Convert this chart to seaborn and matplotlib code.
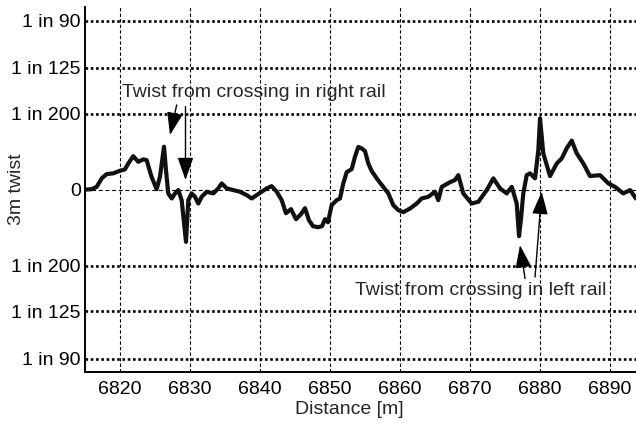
import numpy as np
import matplotlib
matplotlib.use("Agg")
import matplotlib.pyplot as plt
import seaborn as sns

# ── Data ─────────────────────────────────────────────────────────────────────
distance = [6815.00, 6815.96, 6816.67, 6817.39, 6818.10, 6819.04, 6820.00, 6820.71,
            6821.19, 6821.90, 6822.61, 6823.33, 6823.81, 6824.51, 6825.24, 6825.71,
            6826.29, 6826.57, 6826.90, 6827.39, 6827.86, 6828.33, 6828.81, 6829.43,
            6829.76, 6830.24, 6830.71, 6831.19, 6831.67, 6832.39, 6833.33, 6834.04,
            6834.53, 6835.24, 6836.19, 6837.14, 6838.10, 6838.81, 6839.53, 6840.24,
            6840.96, 6841.67, 6842.39, 6843.10, 6843.71, 6844.43, 6845.14, 6845.86,
            6846.43, 6847.00, 6847.57, 6848.29, 6848.86, 6849.29, 6849.71, 6850.24,
            6850.96, 6851.43, 6851.90, 6852.39, 6853.10, 6853.57, 6854.04, 6854.53,
            6855.00, 6855.47, 6855.96, 6856.67, 6857.61, 6858.33, 6859.04, 6859.76,
            6860.47, 6861.43, 6862.39, 6863.10, 6864.04, 6865.00, 6865.47, 6865.96,
            6867.14, 6867.86, 6868.33, 6869.04, 6870.24, 6871.19, 6872.39, 6873.33,
            6874.29, 6875.24, 6875.96, 6876.67, 6877.00, 6877.29, 6877.61, 6878.10,
            6878.57, 6879.29, 6879.76, 6880.00, 6880.29, 6880.47, 6881.43, 6882.39,
            6883.10, 6883.81, 6884.53, 6885.24, 6886.19, 6887.14, 6888.57, 6889.76,
            6890.71, 6891.90, 6892.86, 6893.71]
twist = [0.00, 0.03, 0.18, 0.74, 1.02, 1.07, 1.24, 1.33,
         1.72, 2.20, 1.83, 1.99, 1.94, 0.84, 0.03, 0.84,
         2.82, 1.28, -0.25, -0.58, -0.25, -0.03, -0.69, -3.43,
         -0.69, -0.25, -0.47, -0.91, -0.47, -0.14, -0.25, 0.08,
         0.41, 0.08, -0.03, -0.14, -0.36, -0.58, -0.36, -0.14,
         0.08, 0.23, -0.14, -0.69, -1.55, -1.28, -1.94, -1.61,
         -1.22, -2.01, -2.40, -2.47, -2.40, -1.94, -2.14, -1.02,
         -0.69, -0.58, 0.41, 1.15, 1.35, 2.16, 2.80, 2.71,
         2.53, 1.72, 1.22, 0.74, 0.18, -0.25, -1.02, -1.35,
         -1.48, -1.24, -0.91, -0.58, -0.47, -0.14, -0.69, 0.18,
         0.49, 0.63, 0.95, -0.25, -0.91, -0.80, -0.03, 0.74,
         0.08, -0.25, 0.18, -0.91, -3.06, -1.88, -0.25, 0.95,
         1.07, 0.74, 2.60, 4.68, 3.26, 2.38, 0.89, 1.72,
         2.05, 2.71, 3.22, 2.38, 1.72, 0.89, 0.95, 0.41,
         0.18, -0.25, -0.03, -0.58]

limit_ratios = [90, 125, 200]          # "1 in N" twist limits
x_ticks = [6820, 6830, 6840, 6850, 6860, 6870, 6880, 6890]
y_tick_labels = ["1 in 90", "1 in 125", "1 in 200", "0", "1 in 200", "1 in 125", "1 in 90"]

right_rail_text = "Twist from crossing in right rail"
left_rail_text = "Twist from crossing in left rail"
right_arrows = [((6828.1, 5.56), (6827.14, 3.59)), ((6829.36, 5.45), (6829.36, 0.63))]
left_arrows = [((6877.86, -5.84), (6877.14, -3.65)), ((6879.29, -5.74), (6880.24, -0.14))]

# ── Style ────────────────────────────────────────────────────────────────────
sns.set_style("white")
plt.rcParams["font.family"] = ["Liberation Sans", "DejaVu Sans"]
FS = 14

fig = plt.figure(figsize=(6.36, 4.23), dpi=100)
ax = fig.add_axes([0.1336, 0.1199, 0.8664, 0.8636])

limits = [1000.0 / r for r in limit_ratios]
y_ticks = limits + [0.0] + [-v for v in reversed(limits)]

# grid
for xt in x_ticks:
    ax.axvline(xt, color="k", lw=0.8, ls=(0, (3, 2)), zorder=1)
ax.axhline(0, color="k", lw=0.8, ls=(0, (3.5, 2.5)), zorder=1)
for v in limits:
    ax.axhline(v, color="k", lw=1.9, ls=(0, (1, 1)), zorder=1)
    ax.axhline(-v, color="k", lw=1.9, ls=(0, (1, 1)), zorder=1)

sns.lineplot(x=distance, y=twist, ax=ax, color="#111111", lw=3.0,
             estimator=None, sort=False, zorder=3)
for line in ax.get_lines()[-1:]:
    line.set_solid_joinstyle("round")
    line.set_solid_capstyle("round")

ax.set_xlim(6815, 6893.71)
ax.set_ylim(-12, 12)
ax.set_xticks(x_ticks)
ax.set_yticks(y_ticks)
ax.set_yticklabels(y_tick_labels)
ax.tick_params(direction="in", length=4, width=1, colors="k", labelsize=FS)
ax.tick_params(axis="y", pad=3)
ax.tick_params(axis="x", pad=6)

for side in ["top", "right"]:
    ax.spines[side].set_visible(False)
for side in ["left", "bottom"]:
    ax.spines[side].set_color("k")
    ax.spines[side].set_linewidth(1.4)

ax.set_xlabel("Distance [m]", fontsize=FS)
ax.set_ylabel("3m twist", fontsize=FS)
ax.xaxis.label.set_va("center")
ax.xaxis.set_label_coords(0.479, -0.103)
ax.yaxis.label.set_va("center")
ax.yaxis.set_label_coords(-0.125, 0.5)

# annotations
arrow_kw = dict(arrowstyle="-|>,head_length=1.0,head_width=0.35", color="k",
                lw=1.0, shrinkA=0, shrinkB=0, mutation_scale=14)
ax.text(6820.29, 6.35, right_rail_text, fontsize=FS, ha="left", va="center", zorder=4)
for start, tip in right_arrows:
    ax.annotate("", xy=tip, xytext=start, arrowprops=arrow_kw, zorder=4)
ax.text(6853.57, -6.61, left_rail_text, fontsize=FS, ha="left", va="center", zorder=4)
for start, tip in left_arrows:
    ax.annotate("", xy=tip, xytext=start, arrowprops=arrow_kw, zorder=4)

fig.savefig("out.png", dpi=100)
